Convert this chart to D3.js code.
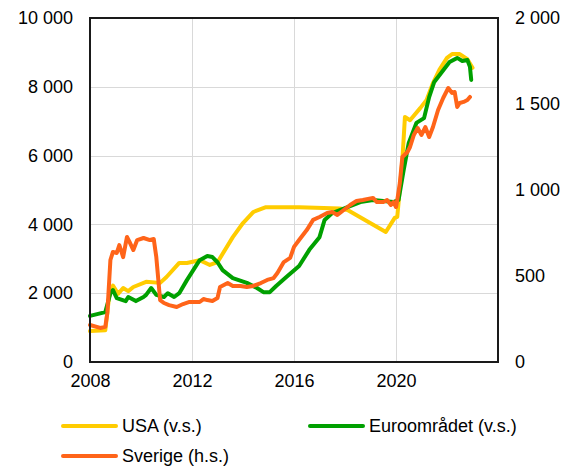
<!DOCTYPE html>
<html>
<head>
<meta charset="utf-8">
<script src="https://cdn.jsdelivr.net/npm/d3@7"></script>
<style>
body { margin: 0; background: #fff; }
text { font-family: "Liberation Sans", Arial, sans-serif; font-size: 18px; fill: #000; }
</style>
</head>
<body>
<svg id="chart" width="567" height="466"></svg>
<script>
// [år, värde] – USA och euroområdet på vänster skala, Sverige på höger
var usa = [[2008.0,900],[2008.6,920],[2008.75,1900],[2008.9,2220],[2009.1,1980],[2009.3,2150],[2009.5,2060],
  [2009.7,2180],[2010.2,2330],[2010.75,2300],[2011.0,2470],[2011.5,2880],[2011.8,2880],[2012.3,2960],
  [2012.7,2820],[2013.0,2900],[2013.6,3630],[2014.0,4040],[2014.4,4360],[2014.9,4500],[2016.2,4500],
  [2017.8,4460],[2018.1,4420],[2019.6,3780],[2019.95,4190],[2020.05,4220],[2020.25,5870],[2020.35,7120],
  [2020.55,7030],[2020.95,7380],[2021.2,7620],[2021.45,8110],[2021.7,8490],[2022.0,8840],[2022.2,8950],
  [2022.5,8950],[2022.8,8800],[2023.0,8550]];

var euro = [[2008.0,1340],[2008.6,1450],[2008.8,2000],[2008.9,2090],[2009.05,1860],[2009.4,1770],[2009.5,1890],
  [2009.8,1770],[2010.1,1890],[2010.2,1950],[2010.4,2150],[2010.6,1950],[2010.9,1890],[2011.05,2000],
  [2011.3,1890],[2011.5,2000],[2011.8,2380],[2012.05,2670],[2012.3,2960],[2012.6,3080],[2012.8,3050],
  [2013.0,2900],[2013.2,2670],[2013.6,2440],[2014.15,2300],[2014.55,2150],[2014.8,2030],[2015.05,2030],
  [2015.3,2210],[2015.7,2470],[2016.2,2790],[2016.6,3260],[2017.0,3630],[2017.2,4130],[2017.5,4330],
  [2018.1,4500],[2018.6,4650],[2019.1,4710],[2019.9,4650],[2020.1,4710],[2020.3,5580],[2020.5,6370],
  [2020.8,6950],[2021.1,7090],[2021.3,7700],[2021.5,8140],[2021.8,8430],[2022.1,8720],[2022.4,8840],
  [2022.6,8750],[2022.8,8780],[2022.9,8580],[2022.95,8200]];

var sverige = [[2008.0,215],[2008.4,198],[2008.6,204],[2008.68,285],[2008.8,593],[2008.9,640],[2009.05,634],
  [2009.15,680],[2009.3,610],[2009.45,727],[2009.55,698],[2009.7,651],[2009.85,709],[2010.1,721],
  [2010.35,709],[2010.5,715],[2010.6,610],[2010.75,360],[2010.9,343],[2011.1,331],[2011.4,320],
  [2011.65,337],[2011.9,349],[2012.3,349],[2012.45,366],[2012.6,360],[2012.8,355],[2013.0,372],
  [2013.1,436],[2013.4,459],[2013.6,442],[2013.9,442],[2014.15,436],[2014.4,442],[2014.7,459],
  [2014.95,477],[2015.2,488],[2015.35,517],[2015.6,581],[2015.85,605],[2016.0,669],[2016.2,709],
  [2016.5,767],[2016.75,826],[2017.0,843],[2017.3,866],[2017.5,872],[2017.7,855],[2017.9,878],
  [2018.2,913],[2018.45,936],[2018.7,942],[2019.1,954],[2019.25,930],[2019.5,930],[2019.65,942],
  [2019.8,913],[2019.9,930],[2020.0,901],[2020.05,942],[2020.15,1040],[2020.25,1192],[2020.45,1221],
  [2020.55,1250],[2020.7,1320],[2020.85,1360],[2021.0,1320],[2021.15,1366],[2021.3,1308],[2021.45,1366],
  [2021.65,1465],[2021.85,1535],[2022.05,1593],[2022.2,1564],[2022.3,1570],[2022.4,1483],[2022.5,1506],
  [2022.65,1512],[2022.8,1523],[2022.9,1541]];

var xTicks = [2008, 2012, 2016, 2020];
var leftTicks = [0, 2000, 4000, 6000, 8000, 10000];
var rightTicks = [0, 500, 1000, 1500, 2000];

var serier = [
  {namn: "USA (v.s.)", data: usa, axel: "v", farg: "#FFCC00"},
  {namn: "Euroområdet (v.s.)", data: euro, axel: "v", farg: "#00A000"},
  {namn: "Sverige (h.s.)", data: sverige, axel: "h", farg: "#FF6419"}
];

var svg = d3.select("#chart");
var pl = 90, pr = 498, pt = 18, pb = 362;

var x = d3.scaleLinear().domain([2008, 2024]).range([pl, pr]);
var yL = d3.scaleLinear().domain([0, 10000]).range([pb, pt]);
var yR = d3.scaleLinear().domain([0, 2000]).range([pb, pt]);

var fmt = function(d) { return d3.format(",")(d).replace(/,/g, " "); };

// rutnät
var grid = svg.append("g").attr("stroke", "#D9D9D9").attr("stroke-width", 1);
grid.selectAll(".hg").data(leftTicks).enter().append("line")
  .attr("x1", pl).attr("x2", pr)
  .attr("y1", function(d) { return Math.round(yL(d)) + 0.5; })
  .attr("y2", function(d) { return Math.round(yL(d)) + 0.5; });
grid.selectAll(".vg").data(xTicks.concat([2024])).enter().append("line")
  .attr("y1", pt).attr("y2", pb)
  .attr("x1", function(d) { return Math.round(x(d)) + 0.5; })
  .attr("x2", function(d) { return Math.round(x(d)) + 0.5; });

// axlar
var axL = svg.append("g").attr("transform", "translate(" + pl + ",0)")
  .call(d3.axisLeft(yL).tickValues(leftTicks).tickFormat(fmt).tickSize(0).tickPadding(17));
var axR = svg.append("g").attr("transform", "translate(" + pr + ",0)")
  .call(d3.axisRight(yR).tickValues(rightTicks).tickFormat(fmt).tickSize(0).tickPadding(17));
var axX = svg.append("g").attr("transform", "translate(0," + pb + ")")
  .call(d3.axisBottom(x).tickValues(xTicks).tickFormat(d3.format("d")).tickSize(0).tickPadding(12));
[axL, axR, axX].forEach(function(a) {
  a.select(".domain").remove();
  a.selectAll("text").style("font-size", "18px").style("font-family", "'Liberation Sans', Arial, sans-serif").attr("fill", "#000");
});

// linjer
serier.forEach(function(s) {
  var y = s.axel == "v" ? yL : yR;
  var line = d3.line().x(function(d) { return x(d[0]); }).y(function(d) { return y(d[1]); });
  svg.append("path").datum(s.data)
    .attr("fill", "none")
    .attr("stroke", s.farg)
    .attr("stroke-width", 4)
    .attr("stroke-linejoin", "round")
    .attr("stroke-linecap", "round")
    .attr("d", line);
});

// ram
svg.append("rect")
  .attr("x", pl).attr("y", pt)
  .attr("width", pr - pl).attr("height", pb - pt)
  .attr("fill", "none").attr("stroke", "#1a1a1a").attr("stroke-width", 2);

// förklaring
var legPos = [[63, 426], [310, 426], [63, 456]];
var leg = svg.selectAll(".legend").data(serier).enter().append("g")
  .attr("class", "legend")
  .attr("transform", function(d, i) { return "translate(" + legPos[i][0] + "," + legPos[i][1] + ")"; });
leg.append("line")
  .attr("x1", 0).attr("x2", 53).attr("y1", 0).attr("y2", 0)
  .attr("stroke", function(d) { return d.farg; })
  .attr("stroke-width", 4).attr("stroke-linecap", "round");
leg.append("text")
  .attr("x", 59).attr("y", 0).attr("dy", "0.35em")
  .text(function(d) { return d.namn; });
</script>
</body>
</html>
